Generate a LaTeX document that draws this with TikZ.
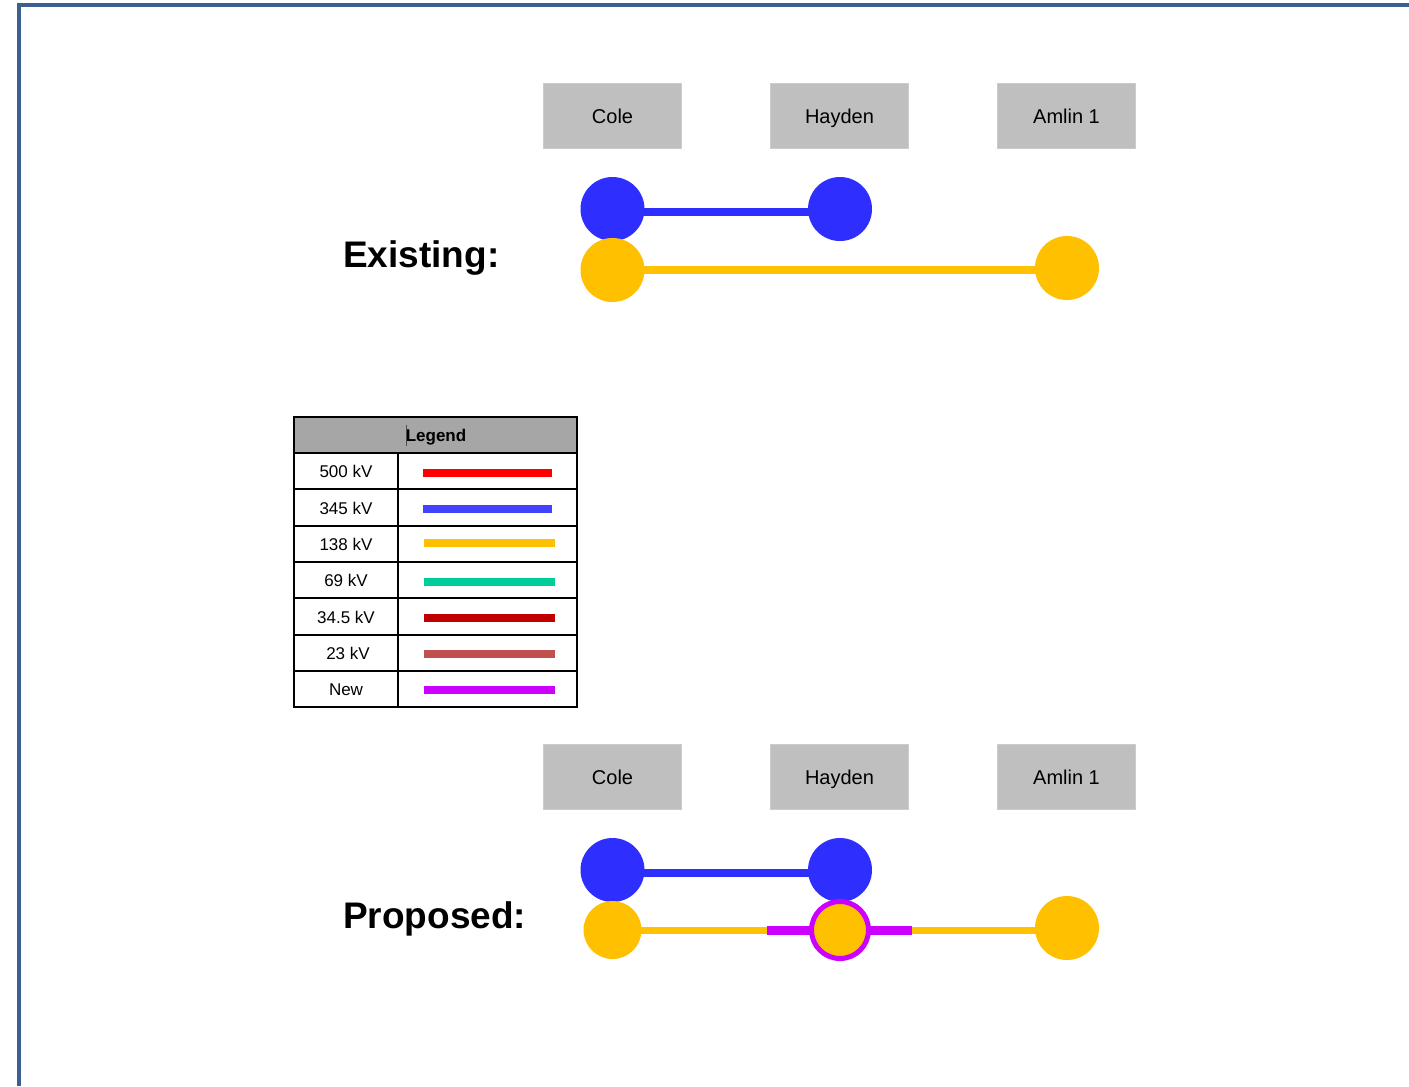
\documentclass[tikz,border=0pt]{standalone}
\usepackage{fontspec}
\setmainfont{Liberation Sans}
\usetikzlibrary{backgrounds}
\definecolor{frameblue}{HTML}{3B5F8F}
\definecolor{boxgray}{HTML}{BFBFBF}
\definecolor{headgray}{HTML}{A6A6A6}
\definecolor{kvfive}{HTML}{FF0000}
\definecolor{kvthree}{HTML}{2E2EFF}
\definecolor{kvone}{HTML}{FFC000}
\definecolor{kvsix}{HTML}{00CC99}
\definecolor{kvthirty}{HTML}{C00000}
\definecolor{kvtwenty}{HTML}{C0504D}
\definecolor{kvnew}{HTML}{CC00FF}
\tikzset{
  subbox/.style={rectangle, fill=boxgray, draw=boxgray!80!white, line width=0.75pt, minimum width=104pt, minimum height=48.75pt, inner sep=0pt},
  boxtext/.style={font=\fontsize{15}{18}\selectfont, inner sep=0pt, text height=10.8pt, text depth=3.2pt},
  bus/.style={circle, inner sep=0pt, minimum size=48pt},
  title/.style={font=\bfseries\fontsize{27.75}{32}\selectfont, anchor=west, inner sep=0pt, text height=20pt, text depth=6pt},
  lline/.style={line width=6pt},
  lbl/.style={font=\fontsize{12.75}{15}\selectfont, inner sep=0pt, text height=9.2pt, text depth=2.7pt},
}
\begin{document}
\begin{tikzpicture}[x=0.75pt,y=-0.75pt]
\useasboundingbox (0,0) rectangle (1409,1086);
\begin{pgfonlayer}{background}
\fill[white] (0,0) rectangle (1409,1086);
\end{pgfonlayer}
% frame
\draw[frameblue, line width=3pt] (19,1086) -- (19,5) -- (1409,5);

% ---------- Existing ----------
\node[subbox] (cole1) at (612.5,115.5) {};
\node[subbox] (hay1) at (839.5,115.5) {};
\node[subbox] (aml1) at (1066.5,115.5) {};
\node[boxtext] (cole1t) at ([yshift=-2.25pt]cole1.center) {Cole};
\node[boxtext] (hay1t) at ([yshift=-2.25pt]hay1.center) {Hayden};
\node[boxtext] (aml1t) at ([yshift=-2.25pt]aml1.center) {Amlin 1};
\node[title] (exist) at (343,258) {Existing:};

\node[bus, fill=kvthree] (c1b) at (612.5,209) {};
\node[bus, fill=kvthree] (h1b) at (840,209) {};
\node[bus, fill=kvone] (c1o) at (612.5,270) {};
\node[bus, fill=kvone] (a1o) at (1067,268) {};
\coordinate (e1) at (612.5,211.5);
\coordinate (e2) at (840,211.5);
\begin{pgfonlayer}{background}
\draw[kvthree, line width=6pt] (e1) -- (e2);
\draw[kvone, line width=6.5pt] (c1o.center) -- (a1o.center |- c1o.center);
\end{pgfonlayer}

% ---------- Legend ----------
\fill[headgray] (294,417) rectangle (577,453);
\draw[line width=1.5pt] (294,417) rectangle (577,707);
\foreach \yy in {453,489.3,525.7,562,598.3,634.7,671}
  \draw[line width=1.5pt] (294,\yy) -- (577,\yy);
\draw[line width=1.5pt] (398,453) -- (398,707);
\node[lbl, font=\bfseries\fontsize{12.75}{15}\selectfont] (lghead) at (436,437.5) {Legend};
\draw[black!70, line width=0.75pt] (406,425) -- (406,446);
\node[lbl] (l1) at (346,473.5) {500 kV};
\node[lbl] (l2) at (346,510) {345 kV};
\node[lbl] (l3) at (346,546.5) {138 kV};
\node[lbl] (l4) at (346,582.5) {69 kV};
\node[lbl] (l5) at (346,619) {34.5 kV};
\node[lbl] (l6) at (348,655.5) {23 kV};
\node[lbl] (l7) at (346,691.5) {New};
\coordinate (s1a) at (423,472.5); \coordinate (s1b) at (552,472.5);
\coordinate (s2a) at (423,508.5); \coordinate (s2b) at (552,508.5);
\coordinate (s3a) at (424,542.5); \coordinate (s3b) at (555,542.5);
\coordinate (s4a) at (424,581.5); \coordinate (s4b) at (555,581.5);
\coordinate (s5a) at (424,618); \coordinate (s5b) at (555,618);
\coordinate (s6a) at (424,654); \coordinate (s6b) at (555,654);
\coordinate (s7a) at (424,689.5); \coordinate (s7b) at (555,689.5);
\draw[lline, kvfive] (s1a) -- (s1b);
\draw[lline, kvthree!90!white] (s2a) -- (s2b);
\draw[lline, kvone] (s3a) -- (s3b);
\draw[lline, kvsix] (s4a) -- (s4b);
\draw[lline, kvthirty] (s5a) -- (s5b);
\draw[lline, kvtwenty] (s6a) -- (s6b);
\draw[lline, kvnew] (s7a) -- (s7b);

% ---------- Proposed ----------
\node[subbox] (cole2) at (612.5,776.5) {};
\node[subbox] (hay2) at (839.5,776.5) {};
\node[subbox] (aml2) at (1066.5,776.5) {};
\node[boxtext] (cole2t) at ([yshift=-2.25pt]cole2.center) {Cole};
\node[boxtext] (hay2t) at ([yshift=-2.25pt]hay2.center) {Hayden};
\node[boxtext] (aml2t) at ([yshift=-2.25pt]aml2.center) {Amlin 1};
\node[title] (prop) at (343,919) {Proposed:};

\node[bus, fill=kvthree] (c2b) at (612.5,870) {};
\node[bus, fill=kvthree] (h2b) at (840,870) {};
\node[bus, fill=kvone, minimum size=43.5pt] (c2o) at (612.5,930) {};
\node[bus, fill=kvone, draw=kvnew, line width=3.75pt, minimum size=42.75pt] (h2o) at (840,930) {};
\node[bus, fill=kvone] (a2o) at (1067,928) {};
\coordinate (nw) at (767,930.5);
\coordinate (ne) at (912,930.5);
\coordinate (p1) at (612.5,872.5);
\coordinate (p2) at (840,872.5);
\begin{pgfonlayer}{background}
\draw[kvthree, line width=6pt] (p1) -- (p2);
\draw[kvone, line width=5.5pt] (c2o.center |- nw) -- (nw);
\draw[kvone, line width=5.5pt] (ne) -- (a2o.center |- ne);
\draw[kvnew, line width=6.5pt] (nw) -- (ne);
\end{pgfonlayer}
\end{tikzpicture}
\end{document}
